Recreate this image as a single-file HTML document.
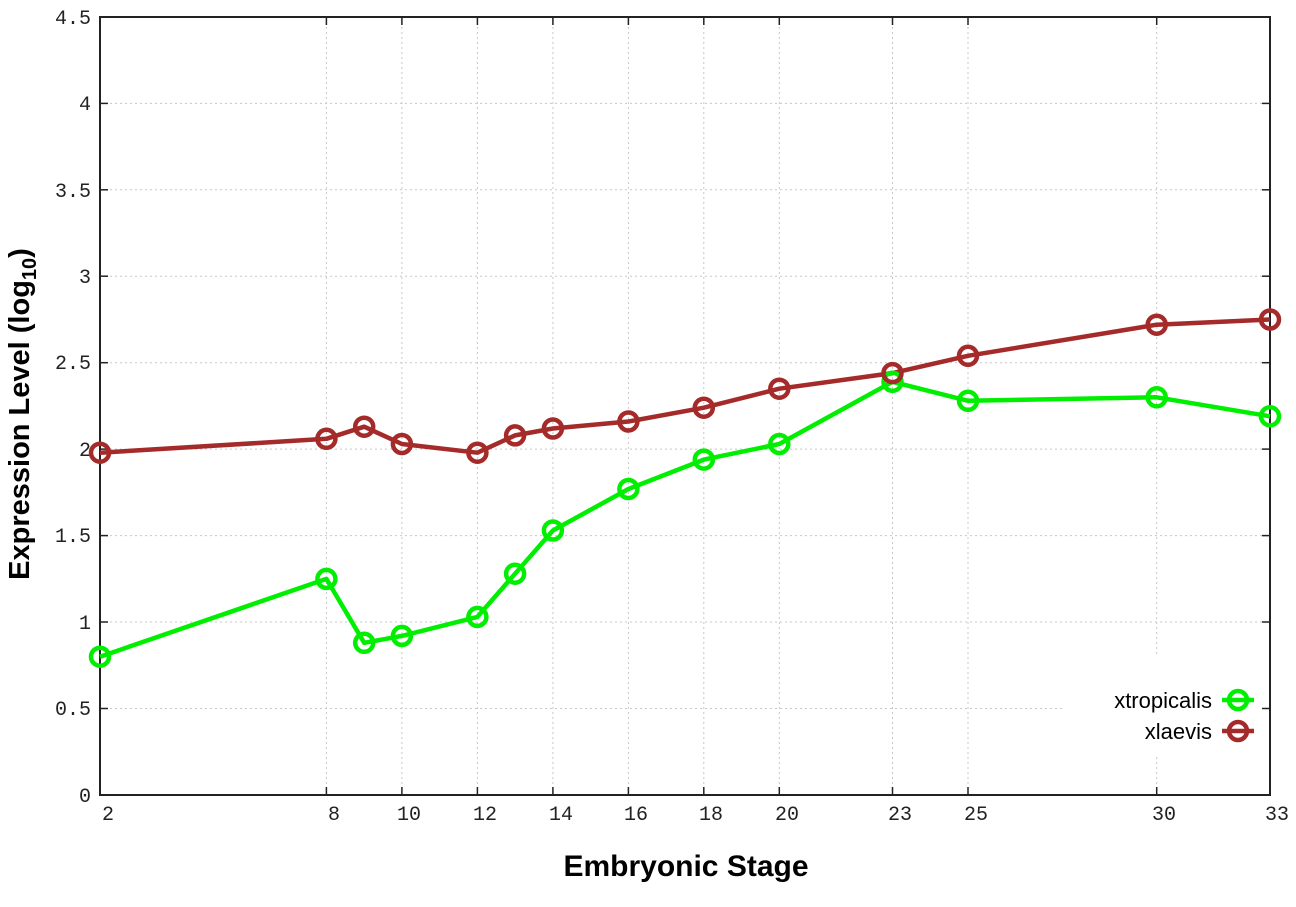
<!DOCTYPE html>
<html><head><meta charset="utf-8"><style>body{margin:0;background:#fff}svg{display:block}</style></head><body>
<svg width="1296" height="907" xmlns="http://www.w3.org/2000/svg">
<rect width="1296" height="907" fill="#fff"/>
<g stroke="#c8c8c8" stroke-width="1" stroke-dasharray="2,3">
<line x1="100" x2="1270" y1="708.5" y2="708.5"/><line x1="100" x2="1270" y1="622" y2="622"/><line x1="100" x2="1270" y1="535.6" y2="535.6"/><line x1="100" x2="1270" y1="449.1" y2="449.1"/><line x1="100" x2="1270" y1="362.7" y2="362.7"/><line x1="100" x2="1270" y1="276.2" y2="276.2"/><line x1="100" x2="1270" y1="189.8" y2="189.8"/><line x1="100" x2="1270" y1="103.4" y2="103.4"/>
<line y1="17" y2="795" x1="326.4" x2="326.4"/><line y1="17" y2="795" x1="401.9" x2="401.9"/><line y1="17" y2="795" x1="477.4" x2="477.4"/><line y1="17" y2="795" x1="552.9" x2="552.9"/><line y1="17" y2="795" x1="628.4" x2="628.4"/><line y1="17" y2="795" x1="703.8" x2="703.8"/><line y1="17" y2="795" x1="779.3" x2="779.3"/><line y1="17" y2="795" x1="892.5" x2="892.5"/><line y1="17" y2="795" x1="968" x2="968"/><line y1="17" y2="795" x1="1156.7" x2="1156.7"/>
</g>
<rect x="1062" y="655" width="206" height="100" fill="#fff"/>
<rect x="100" y="17" width="1170" height="778" fill="none" stroke="#222" stroke-width="2"/>
<g stroke="#222" stroke-width="1.5">
<line x1="100" x2="108" y1="708.5" y2="708.5"/><line x1="100" x2="108" y1="622" y2="622"/><line x1="100" x2="108" y1="535.6" y2="535.6"/><line x1="100" x2="108" y1="449.1" y2="449.1"/><line x1="100" x2="108" y1="362.7" y2="362.7"/><line x1="100" x2="108" y1="276.2" y2="276.2"/><line x1="100" x2="108" y1="189.8" y2="189.8"/><line x1="100" x2="108" y1="103.4" y2="103.4"/>
<line x1="1262" x2="1270" y1="708.5" y2="708.5"/><line x1="1262" x2="1270" y1="622" y2="622"/><line x1="1262" x2="1270" y1="535.6" y2="535.6"/><line x1="1262" x2="1270" y1="449.1" y2="449.1"/><line x1="1262" x2="1270" y1="362.7" y2="362.7"/><line x1="1262" x2="1270" y1="276.2" y2="276.2"/><line x1="1262" x2="1270" y1="189.8" y2="189.8"/><line x1="1262" x2="1270" y1="103.4" y2="103.4"/>
<line y1="787" y2="795" x1="326.4" x2="326.4"/><line y1="787" y2="795" x1="401.9" x2="401.9"/><line y1="787" y2="795" x1="477.4" x2="477.4"/><line y1="787" y2="795" x1="552.9" x2="552.9"/><line y1="787" y2="795" x1="628.4" x2="628.4"/><line y1="787" y2="795" x1="703.8" x2="703.8"/><line y1="787" y2="795" x1="779.3" x2="779.3"/><line y1="787" y2="795" x1="892.5" x2="892.5"/><line y1="787" y2="795" x1="968" x2="968"/><line y1="787" y2="795" x1="1156.7" x2="1156.7"/>
<line y1="17" y2="25" x1="326.4" x2="326.4"/><line y1="17" y2="25" x1="401.9" x2="401.9"/><line y1="17" y2="25" x1="477.4" x2="477.4"/><line y1="17" y2="25" x1="552.9" x2="552.9"/><line y1="17" y2="25" x1="628.4" x2="628.4"/><line y1="17" y2="25" x1="703.8" x2="703.8"/><line y1="17" y2="25" x1="779.3" x2="779.3"/><line y1="17" y2="25" x1="892.5" x2="892.5"/><line y1="17" y2="25" x1="968" x2="968"/><line y1="17" y2="25" x1="1156.7" x2="1156.7"/>
</g>
<g font-family="Liberation Mono, monospace" font-size="20" fill="#222" text-anchor="end">
<text x="91" y="802">0</text><text x="91" y="715">0.5</text><text x="91" y="629">1</text><text x="91" y="542">1.5</text><text x="91" y="456">2</text><text x="91" y="369">2.5</text><text x="91" y="283">3</text><text x="91" y="197">3.5</text><text x="91" y="110">4</text><text x="91" y="24">4.5</text>
</g>
<g font-family="Liberation Mono, monospace" font-size="20" fill="#222" text-anchor="middle">
<text x="108" y="820">2</text><text x="334" y="820">8</text><text x="409" y="820">10</text><text x="485" y="820">12</text><text x="561" y="820">14</text><text x="636" y="820">16</text><text x="711" y="820">18</text><text x="787" y="820">20</text><text x="900" y="820">23</text><text x="976" y="820">25</text><text x="1164" y="820">30</text><text x="1277" y="820">33</text>
</g>
<text x="686" y="876" font-family="Liberation Sans, sans-serif" font-weight="bold" font-size="30" text-anchor="middle" fill="#000">Embryonic Stage</text>
<text transform="translate(29,414) rotate(-90)" font-family="Liberation Sans, sans-serif" font-weight="bold" font-size="29" text-anchor="middle" fill="#000">Expression Level (log<tspan font-size="20" dy="7">10</tspan><tspan dy="-7">)</tspan></text>
<g fill="none" stroke-width="4.5" stroke-linejoin="round">
<polyline stroke="#00ee00" points="100,656.7 326.4,578.9 364.2,642.8 401.9,635.9 477.4,616.9 515.1,573.7 552.9,530.5 628.4,489 703.8,459.6 779.3,444 892.5,381.8 968,400.8 1156.7,397.3 1270,416.3"/>
<polyline stroke="#a52a2a" points="100,452.7 326.4,438.8 364.2,426.7 401.9,444 477.4,452.7 515.1,435.4 552.9,428.5 628.4,421.5 703.8,407.7 779.3,388.7 892.5,373.1 968,355.8 1156.7,324.7 1270,319.5"/>
</g>
<g fill="none" stroke-width="4.5" stroke="#00ee00">
<circle cx="100" cy="656.7" r="9"/><circle cx="326.4" cy="578.9" r="9"/><circle cx="364.2" cy="642.8" r="9"/><circle cx="401.9" cy="635.9" r="9"/><circle cx="477.4" cy="616.9" r="9"/><circle cx="515.1" cy="573.7" r="9"/><circle cx="552.9" cy="530.5" r="9"/><circle cx="628.4" cy="489" r="9"/><circle cx="703.8" cy="459.6" r="9"/><circle cx="779.3" cy="444" r="9"/><circle cx="892.5" cy="381.8" r="9"/><circle cx="968" cy="400.8" r="9"/><circle cx="1156.7" cy="397.3" r="9"/><circle cx="1270" cy="416.3" r="9"/>
</g>
<g fill="none" stroke-width="4.5" stroke="#a52a2a">
<circle cx="100" cy="452.7" r="9"/><circle cx="326.4" cy="438.8" r="9"/><circle cx="364.2" cy="426.7" r="9"/><circle cx="401.9" cy="444" r="9"/><circle cx="477.4" cy="452.7" r="9"/><circle cx="515.1" cy="435.4" r="9"/><circle cx="552.9" cy="428.5" r="9"/><circle cx="628.4" cy="421.5" r="9"/><circle cx="703.8" cy="407.7" r="9"/><circle cx="779.3" cy="388.7" r="9"/><circle cx="892.5" cy="373.1" r="9"/><circle cx="968" cy="355.8" r="9"/><circle cx="1156.7" cy="324.7" r="9"/><circle cx="1270" cy="319.5" r="9"/>
</g>
<g font-family="Liberation Sans, sans-serif" font-size="22" fill="#000" text-anchor="end">
<text x="1212" y="708">xtropicalis</text><text x="1212" y="739">xlaevis</text>
</g>
<g stroke-width="4.5" fill="none">
<line x1="1222" x2="1254" y1="700" y2="700" stroke="#00ee00"/><circle cx="1238" cy="700" r="9" stroke="#00ee00"/>
<line x1="1222" x2="1254" y1="731" y2="731" stroke="#a52a2a"/><circle cx="1238" cy="731" r="9" stroke="#a52a2a"/>
</g>
</svg>
</body></html>
